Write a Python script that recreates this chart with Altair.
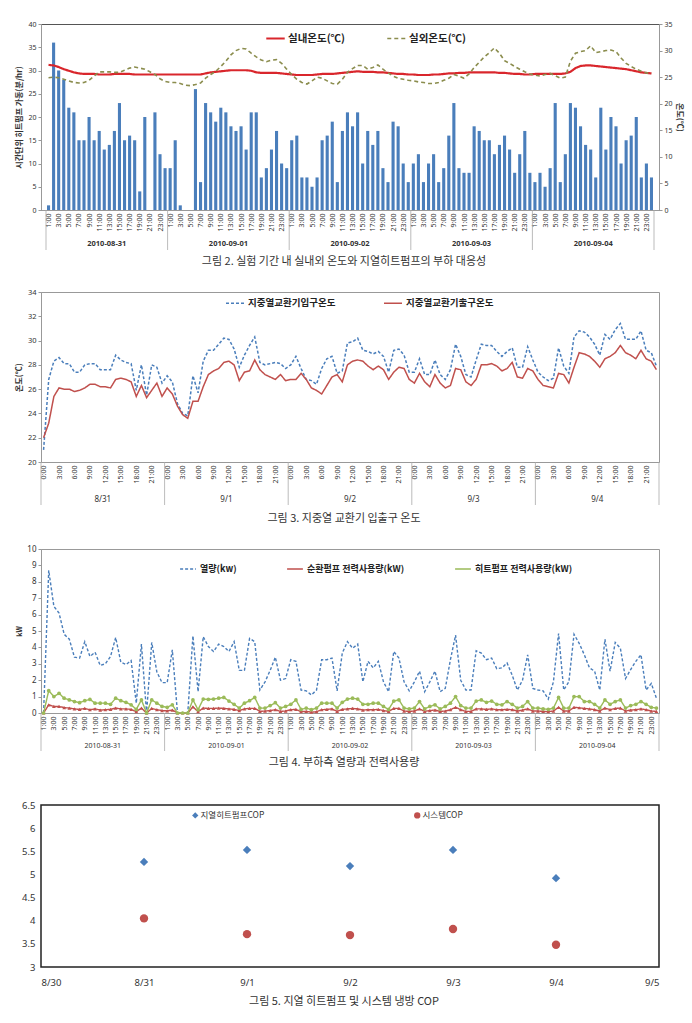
import altair as alt
import pandas as pd

FONT = "Noto Sans CJK KR"
NUM = "Noto Sans"
N = 120

# ---------------- Fig 2 data ----------------
fig2_days = ["2010-08-31", "2010-09-01", "2010-09-02", "2010-09-03", "2010-09-04"]
fig2_series = ["실내온도(℃)", "실외온도(℃)"]
hp_runtime = [
    1, 36, 30, 28, 22, 21, 15, 15, 20, 15, 17, 13, 14, 17, 23, 15, 16, 15, 4, 20, 0, 21, 12, 9,
    9, 15, 1, 0, 0, 26, 6, 23, 21, 19, 22, 21, 18, 17, 18, 13, 21, 21, 7, 9, 13, 17, 10, 9,
    15, 16, 7, 7, 5, 7, 15, 16, 19, 6, 17, 21, 18, 21, 10, 17, 14, 17, 9, 6, 19, 18, 10, 6,
    10, 12, 6, 10, 12, 6, 9, 16, 23, 9, 8, 8, 18, 17, 15, 15, 12, 14, 16, 13, 8, 12, 17, 8,
    6, 8, 5, 9, 23, 6, 12, 23, 22, 18, 14, 13, 7, 22, 13, 20, 18, 10, 15, 16, 20, 7, 10, 7,
]
indoor_temp = [
    27.3, 27.2, 26.9, 26.5, 26.2, 25.9, 25.7, 25.6, 25.6, 25.6, 25.5, 25.5, 25.5, 25.6, 25.6, 25.6, 25.6, 25.5, 25.5, 25.5, 25.5, 25.5, 25.5, 25.5,
    25.5, 25.5, 25.5, 25.5, 25.5, 25.5, 25.5, 25.7, 25.9, 26.0, 26.1, 26.2, 26.3, 26.3, 26.3, 26.3, 26.2, 25.9, 25.8, 25.8, 25.8, 25.8, 25.7, 25.6,
    25.5, 25.4, 25.4, 25.4, 25.4, 25.5, 25.6, 25.6, 25.6, 25.7, 25.8, 25.9, 26.0, 26.1, 26.0, 26.0, 26.0, 25.9, 25.9, 25.8, 25.7, 25.6, 25.6, 25.5,
    25.5, 25.4, 25.4, 25.4, 25.5, 25.5, 25.6, 25.7, 25.7, 25.8, 25.8, 25.9, 25.9, 25.9, 25.9, 25.9, 25.9, 25.8, 25.8, 25.7, 25.6, 25.6, 25.5, 25.5,
    25.6, 25.6, 25.6, 25.6, 25.6, 25.6, 25.7, 26.0, 26.7, 27.1, 27.2, 27.2, 27.1, 27.0, 26.9, 26.8, 26.7, 26.6, 26.5, 26.3, 26.1, 25.9, 25.8, 25.7,
]
outdoor_temp = [
    24.9, 25.0, 24.9, 24.6, 24.3, 24.0, 23.9, 24.0, 24.4, 25.2, 26.0, 26.0, 26.0, 25.9, 25.9, 26.3, 26.7, 26.9, 26.7, 26.5, 26.0, 25.5, 24.7, 24.2,
    24.0, 24.0, 23.8, 23.5, 23.4, 23.6, 23.9, 24.8, 25.5, 26.1, 27.0, 28.0, 29.2, 30.0, 30.4, 30.3, 29.5, 28.8, 28.2, 27.9, 28.2, 28.3, 27.6, 26.5,
    25.5, 24.6, 24.0, 23.7, 24.3, 25.0, 24.8, 24.3, 23.8, 23.7, 24.6, 25.9, 26.6, 27.2, 27.2, 26.5, 26.8, 27.3, 26.5, 25.8, 25.2, 24.8, 24.6, 24.4,
    24.3, 24.1, 24.0, 23.8, 23.8, 24.0, 24.4, 24.8, 25.5, 25.2, 24.8, 25.6, 26.8, 27.8, 28.8, 29.6, 30.5, 29.5, 28.1, 27.6, 27.0, 26.5, 26.0, 25.6,
    25.4, 25.2, 25.5, 25.7, 25.3, 24.8, 25.0, 28.0, 29.5, 29.8, 30.0, 30.9, 29.6, 29.8, 30.0, 30.1, 29.8, 28.6, 27.6, 27.0, 26.5, 26.1, 25.8, 25.7,
]

# ---------------- Fig 3 data ----------------
fig3_days = ["8/31", "9/1", "9/2", "9/3", "9/4"]
fig3_series = ["지중열교환기입구온도", "지중열교환기출구온도"]
inlet_temp = [
    21.0, 26.8, 28.3, 28.6, 28.1, 28.1, 27.4, 27.4, 28.0, 28.1, 28.1, 27.6, 27.6, 27.6, 28.8, 28.4, 28.2, 28.1, 25.9, 28.0, 25.5, 28.0, 27.8, 26.5,
    27.1, 26.6, 24.8, 24.0, 23.8, 27.1, 25.7, 28.3, 29.2, 29.2, 29.7, 30.2, 30.1, 29.3, 27.8, 28.8, 29.6, 30.3, 28.2, 28.0, 28.1, 28.2, 28.1, 27.7,
    28.0, 28.7, 27.7, 26.8, 26.7, 26.4, 27.7, 28.5, 28.7, 27.3, 27.5, 29.8, 29.9, 30.2, 29.2, 29.1, 28.9, 29.1, 28.7, 27.4, 29.2, 29.3, 28.8, 27.4,
    27.4, 28.5, 27.2, 27.2, 28.4, 27.2, 26.8, 27.6, 29.7, 28.7, 27.2, 27.0, 28.4, 29.7, 29.6, 29.6, 29.1, 28.7, 29.1, 29.4, 27.8, 27.8, 29.5, 28.4,
    27.4, 27.0, 26.7, 26.9, 29.4, 27.9, 27.3, 30.3, 30.8, 30.7, 30.3, 29.7, 28.8, 30.5, 30.1, 30.9, 31.4, 30.1, 30.1, 30.1, 30.8, 29.2, 29.0, 27.9,
]
outlet_temp = [
    22.0, 23.2, 25.4, 26.1, 26.0, 26.0, 25.8, 25.9, 26.1, 26.4, 26.4, 26.2, 26.2, 26.1, 26.8, 26.9, 26.8, 26.6, 25.4, 26.3, 25.3, 25.9, 26.5, 25.4,
    26.1, 25.6, 24.6, 23.9, 23.6, 25.0, 25.0, 26.2, 27.2, 27.5, 27.7, 28.2, 28.3, 28.0, 26.7, 27.4, 27.5, 28.4, 27.6, 27.2, 27.0, 26.8, 27.2, 26.7,
    26.8, 26.8, 27.3, 26.8, 26.1, 25.9, 25.6, 26.3, 27.0, 27.2, 26.6, 28.0, 28.3, 28.4, 28.3, 27.9, 27.6, 27.9, 27.6, 26.8, 27.4, 27.8, 27.7, 26.8,
    26.5, 27.3, 26.6, 26.2, 27.2, 26.5, 26.1, 26.3, 27.7, 27.6, 26.6, 26.3, 26.8, 28.0, 28.0, 28.1, 27.9, 27.5, 27.7, 28.2, 27.0, 26.9, 27.7, 27.5,
    26.8, 26.3, 26.2, 26.1, 27.3, 27.2, 26.5, 27.8, 29.0, 28.9, 28.7, 28.3, 27.8, 28.5, 28.7, 29.0, 29.6, 29.0, 28.8, 28.5, 29.2, 28.5, 28.3, 27.6,
]

# ---------------- Fig 4 data ----------------
fig4_days = fig2_days
fig4_series = ["열량(kw)", "순환펌프 전력사용량(kW)", "히트펌프 전력사용량(kW)"]
heat_kw = [
    0, 8.7, 6.5, 6.1, 4.8, 4.5, 3.4, 3.35, 4.35, 3.45, 3.7, 2.9, 3.0, 3.45, 4.6, 3.1, 2.95, 3.2, 0.6, 4.2, 0, 4.3, 2.5, 1.85,
    1.85, 3.85, 0, 0, 0, 4.7, 1.3, 4.65, 4.05, 3.75, 4.2, 4.05, 3.75, 4.35, 2.6, 2.6, 4.55, 4.35, 1.4, 1.9, 2.6, 3.4, 2.0, 2.1,
    3.25, 3.15, 1.4, 1.35, 1.1, 1.4, 3.25, 3.25, 3.35, 1.35, 3.65, 4.35, 3.95, 4.2, 1.9, 3.15, 2.75, 3.15, 1.9, 1.3, 3.75, 3.35, 1.9, 1.35,
    1.9, 2.55, 1.3, 1.9, 2.55, 1.3, 1.5, 3.25, 4.75, 2.0, 1.4, 1.4, 3.8, 3.65, 3.25, 3.35, 2.7, 2.75, 3.05, 2.3, 1.4, 2.0, 3.55, 1.5,
    1.4, 1.35, 0.85, 1.9, 4.85, 1.4, 1.9, 4.8, 4.25, 3.55, 2.75, 2.55, 1.4, 4.5, 2.55, 4.3, 3.95, 2.1, 2.65, 3.15, 3.55, 1.4, 1.8, 0.9,
]
pump_kw = [
    0, 0.5, 0.4, 0.4, 0.33, 0.3, 0.25, 0.22, 0.28, 0.2, 0.25, 0.18, 0.2, 0.22, 0.3, 0.25, 0.25, 0.22, 0.08, 0.3, 0, 0.28, 0.2, 0.15,
    0.13, 0.18, 0, 0, 0, 0.38, 0.08, 0.3, 0.28, 0.28, 0.3, 0.28, 0.25, 0.22, 0.15, 0.25, 0.28, 0.28, 0.1, 0.12, 0.15, 0.2, 0.1, 0.12,
    0.2, 0.22, 0.08, 0.1, 0.05, 0.08, 0.2, 0.22, 0.25, 0.1, 0.22, 0.25, 0.28, 0.25, 0.18, 0.2, 0.2, 0.22, 0.15, 0.1, 0.28, 0.28, 0.12, 0.1,
    0.12, 0.25, 0.1, 0.15, 0.18, 0.1, 0.12, 0.2, 0.35, 0.2, 0.1, 0.1, 0.25, 0.25, 0.22, 0.25, 0.2, 0.2, 0.22, 0.2, 0.12, 0.18, 0.25, 0.12,
    0.12, 0.1, 0.08, 0.12, 0.35, 0.12, 0.12, 0.35, 0.32, 0.28, 0.25, 0.2, 0.12, 0.3, 0.2, 0.28, 0.3, 0.12, 0.18, 0.2, 0.25, 0.2, 0.12, 0.1,
]
heatpump_kw = [
    0, 1.36, 1.0, 1.2, 0.9, 0.8, 0.7, 0.63, 0.75, 0.83, 0.6, 0.6, 0.6, 0.53, 0.9, 0.75, 0.65, 0.5, 0.22, 0.8, 0, 0.8, 0.6, 0.4,
    0.35, 0.5, 0, 0, 0, 0.8, 0.2, 0.85, 0.83, 0.85, 0.9, 0.95, 0.73, 0.53, 0.3, 0.6, 0.75, 0.95, 0.3, 0.3, 0.45, 0.63, 0.3, 0.4,
    0.53, 0.8, 0.22, 0.3, 0.2, 0.3, 0.6, 0.6, 0.6, 0.3, 0.65, 0.85, 0.9, 0.85, 0.53, 0.53, 0.6, 0.6, 0.4, 0.22, 0.73, 0.8, 0.3, 0.25,
    0.3, 0.7, 0.25, 0.4, 0.5, 0.25, 0.4, 0.6, 1.0, 0.45, 0.3, 0.3, 0.73, 0.8, 0.65, 0.73, 0.53, 0.5, 0.7, 0.53, 0.3, 0.4, 0.7, 0.3,
    0.3, 0.25, 0.22, 0.3, 0.95, 0.3, 0.3, 1.0, 1.0, 0.7, 0.7, 0.53, 0.3, 0.8, 0.53, 0.7, 0.8, 0.3, 0.45, 0.53, 0.7, 0.53, 0.35, 0.3,
]

# ---------------- Fig 5 data ----------------
fig5_dates = ["2010-08-31T00:00:00", "2010-09-01T00:00:00", "2010-09-02T00:00:00",
              "2010-09-03T00:00:00", "2010-09-04T00:00:00"]
fig5_series = ["지열히트펌프COP", "시스템COP"]
gshp_cop = [5.27, 5.53, 5.18, 5.53, 4.92]
system_cop = [4.05, 3.71, 3.69, 3.82, 3.48]

# ---------------- styling ----------------
W = 618
BLUE = "#4a7ebb"
RED = "#c0504d"
GREEN = "#9bbb59"
xc = [i + 0.5 for i in range(N)]
XSCALE = alt.Scale(domain=[0, N], nice=False, zero=False)


def hour_axis(step, offset):
    return alt.Axis(values=[i + 0.5 for i in range(0, N, step)],
                    labelExpr=f"(floor(datum.value) % 24 + {offset}) + ':00'",
                    labelAngle=-90, labelFontSize=7, labelFont=NUM, labelColor="#333",
                    ticks=False, domainColor="#999", title=None, labelPadding=3,
                    labelOverlap=False, grid=False)


def day_layers(labels, h, text_dy, rule_len, size, weight, axis):
    ddf = pd.DataFrame({"x": [24 * d + 12 for d in range(len(labels))], "label": labels})
    bdf = pd.DataFrame({"x": [24 * d for d in range(len(labels) + 1)]})
    rules = alt.Chart(bdf).mark_rule(color="#aaa", strokeWidth=0.8).encode(
        x=alt.X("x:Q", scale=XSCALE, axis=axis),
        y=alt.value(h), y2=alt.value(h + rule_len))
    texts = alt.Chart(ddf).mark_text(fontSize=size, font=NUM, fontWeight=weight, color="#333").encode(
        x=alt.X("x:Q", scale=XSCALE, axis=axis),
        y=alt.value(h + text_dy), text="label:N")
    return rules, texts


def caption(text, offset):
    return alt.TitleParams(text=text, orient="bottom", anchor="middle", offset=offset,
                           fontSize=11, font=FONT, fontWeight="normal", color="#333", dx=-6)


def yaxis(values, title, orient="left", lsize=7, tsize=8, tpad=4):
    return alt.Axis(values=values, title=title, orient=orient, labelFontSize=lsize, labelFont=NUM,
                    labelColor="#333", titleFont=FONT, titleFontSize=tsize, titleFontWeight="bold",
                    titleColor="#333", domainColor="#999", tickColor="#999", tickSize=3,
                    grid=False, titlePadding=tpad, labelOverlap=False)


RES = dict(x="independent", y="independent", color="independent", strokeDash="independent",
           shape="independent", strokeWidth="independent")
LRES = dict(color="independent", strokeDash="independent", shape="independent")

# ---------------- Fig 2 ----------------
H2 = 186
ax2 = hour_axis(2, 1)
df2 = pd.DataFrame({"x": xc, "runtime": hp_runtime})
df2l = pd.DataFrame({
    "x": xc + xc,
    "temp": indoor_temp + outdoor_temp,
    "series": [fig2_series[0]] * N + [fig2_series[1]] * N,
})
leg2 = alt.Legend(orient="none", legendX=224, legendY=4, direction="horizontal", title=None,
                  symbolType="stroke", symbolSize=340, symbolStrokeWidth=2.2,
                  labelFont=FONT, labelFontSize=10.5, labelFontWeight="bold", labelColor="#222",
                  columnPadding=38, labelOffset=2)
bars2 = alt.Chart(df2).mark_bar(size=3.1, color=BLUE).encode(
    x=alt.X("x:Q", scale=XSCALE, axis=ax2),
    y=alt.Y("runtime:Q", scale=alt.Scale(domain=[0, 40], nice=False),
            axis=yaxis(list(range(0, 41, 5)), "시간단위 히트펌프 가동(분/hr)")),
)
lines2 = alt.Chart(df2l).mark_line().encode(
    x=alt.X("x:Q", scale=XSCALE, axis=ax2),
    y=alt.Y("temp:Q", scale=alt.Scale(domain=[0, 35], nice=False),
            axis=yaxis(list(range(0, 36, 5)), "온도(℃)", orient="right", tpad=2)),
    color=alt.Color("series:N", scale=alt.Scale(domain=fig2_series, range=["#d9262c", "#8b8d4e"]), legend=leg2),
    strokeDash=alt.StrokeDash("series:N", scale=alt.Scale(domain=fig2_series, range=[[1, 0], [4, 3]]), legend=leg2),
    strokeWidth=alt.StrokeWidth("series:N", scale=alt.Scale(domain=fig2_series, range=[2.2, 1.6]), legend=None),
)
r2, t2 = day_layers(fig2_days, H2, 34, 40, 7.5, "bold", ax2)
c2 = alt.layer(bars2, lines2, r2, t2).resolve_scale(y="independent").properties(
    width=W, height=H2, view=alt.ViewBackground(stroke="#555"),
    title=caption("그림 2. 실험 기간 내 실내외 온도와 지열히트펌프의 부하 대응성", 6))

# ---------------- Fig 3 ----------------
H3 = 170
ax3 = hour_axis(3, 0)
df3 = pd.DataFrame({
    "x": xc + xc,
    "temp": inlet_temp + outlet_temp,
    "series": [fig3_series[0]] * N + [fig3_series[1]] * N,
})
leg3 = alt.Legend(orient="none", legendX=184, legendY=1, direction="horizontal", title=None,
                  symbolType="stroke", symbolSize=324, symbolStrokeWidth=1.6,
                  labelFont=FONT, labelFontSize=9.5, labelFontWeight="bold", labelColor="#222",
                  columnPadding=44, labelOffset=3)
lines3 = alt.Chart(df3).mark_line(strokeWidth=1.5).encode(
    x=alt.X("x:Q", scale=XSCALE, axis=ax3),
    y=alt.Y("temp:Q", scale=alt.Scale(domain=[20, 34], nice=False),
            axis=yaxis(list(range(20, 35, 2)), "온도(℃)", lsize=7.5, tsize=8)),
    color=alt.Color("series:N", scale=alt.Scale(domain=fig3_series, range=[BLUE, RED]), legend=leg3),
    strokeDash=alt.StrokeDash("series:N", scale=alt.Scale(domain=fig3_series, range=[[3, 2], [1, 0]]), legend=leg3),
)
r3, t3 = day_layers(fig3_days, H3, 38, 43, 8, "normal", ax3)
c3 = alt.layer(lines3, r3, t3).properties(
    width=W, height=H3, view=alt.ViewBackground(stroke="#999"),
    title=caption("그림 3. 지중열 교환기 입출구 온도", 8))

# ---------------- Fig 4 ----------------
H4 = 164
ax4 = hour_axis(2, 1)
y4 = yaxis(list(range(0, 11)), "kW", lsize=8, tsize=7)
df4 = pd.DataFrame({
    "x": xc * 3,
    "kw": heat_kw + pump_kw + heatpump_kw,
    "series": [fig4_series[0]] * N + [fig4_series[1]] * N + [fig4_series[2]] * N,
})
leg4 = alt.Legend(orient="none", legendX=138, legendY=11, direction="horizontal", title=None,
                  symbolType="stroke", symbolSize=250, symbolStrokeWidth=1.6,
                  labelFont=FONT, labelFontSize=9, labelFontWeight="bold", labelColor="#222",
                  columnPadding=46, labelOffset=3)
lines4 = alt.Chart(df4).mark_line(strokeWidth=1.4).encode(
    x=alt.X("x:Q", scale=XSCALE, axis=ax4),
    y=alt.Y("kw:Q", scale=alt.Scale(domain=[0, 10], nice=False), axis=y4),
    color=alt.Color("series:N", scale=alt.Scale(domain=fig4_series, range=[BLUE, RED, GREEN]), legend=leg4),
    strokeDash=alt.StrokeDash("series:N", scale=alt.Scale(domain=fig4_series, range=[[3, 2], [1, 0], [1, 0]]), legend=leg4),
)
pts4 = alt.Chart(df4).transform_filter(
    alt.FieldOneOfPredicate(field="series", oneOf=fig4_series[1:])
).mark_point(filled=True, size=14, opacity=1).encode(
    x=alt.X("x:Q", scale=XSCALE, axis=ax4),
    y=alt.Y("kw:Q", scale=alt.Scale(domain=[0, 10], nice=False), axis=y4),
    color=alt.Color("series:N", legend=None),
    shape=alt.Shape("series:N", scale=alt.Scale(domain=fig4_series[1:], range=["triangle-up", "circle"]), legend=None),
)
r4, t4 = day_layers(fig4_days, H4, 33, 38, 7, "normal", ax4)
c4 = alt.layer(lines4, pts4, r4, t4).properties(
    width=W, height=H4, view=alt.ViewBackground(stroke="#999"),
    title=caption("그림 4. 부하측 열량과 전력사용량", 6))

# ---------------- Fig 5 ----------------
H5 = 162
df5 = pd.DataFrame({
    "date": fig5_dates + fig5_dates,
    "cop": gshp_cop + system_cop,
    "series": [fig5_series[0]] * 5 + [fig5_series[1]] * 5,
})
leg5 = alt.Legend(orient="none", legendX=150, legendY=6, direction="horizontal", title=None,
                  symbolSize=40, labelFont=FONT, labelFontSize=8.5, labelColor="#333",
                  columnPadding=148, labelOffset=1, symbolStrokeWidth=0)
tick_days = [alt.DateTime(year=2010, month=m, date=d) for m, d in [(8, 30), (8, 31), (9, 1), (9, 2), (9, 3), (9, 4), (9, 5)]]
pts5 = alt.Chart(df5).mark_point(filled=True, size=70, opacity=1).encode(
    x=alt.X("date:T", scale=alt.Scale(domain=[tick_days[0], tick_days[-1]]),
            axis=alt.Axis(values=tick_days, format="%-m/%-d", title=None, labelFontSize=9.5,
                          labelFont=NUM, labelColor="#333", ticks=False, domain=False,
                          grid=False, labelPadding=10)),
    y=alt.Y("cop:Q", scale=alt.Scale(domain=[3, 6.5], nice=False),
            axis=alt.Axis(values=[3, 3.5, 4, 4.5, 5, 5.5, 6, 6.5], format="~g", title=None,
                          labelFontSize=9.5, labelFont=NUM, labelColor="#333", ticks=False,
                          domain=False, grid=False, labelPadding=6)),
    color=alt.Color("series:N", scale=alt.Scale(domain=fig5_series, range=[BLUE, RED]), legend=leg5),
    shape=alt.Shape("series:N", scale=alt.Scale(domain=fig5_series, range=["diamond", "circle"]), legend=leg5),
)
c5 = pts5.properties(
    width=W, height=H5, view=alt.ViewBackground(stroke="#222", strokeWidth=1.5),
    title=caption("그림 5. 지열 히트펌프 및 시스템 냉방 COP", 9))

inner = alt.vconcat(c2, c3, c4, spacing=19).resolve_scale(**RES).resolve_legend(**LRES)
chart = alt.vconcat(inner, c5, spacing=30).resolve_scale(**RES).resolve_legend(**LRES).properties(
    padding={"left": 14, "top": 19, "right": 6, "bottom": 0},
    background="white",
).configure_axis(grid=False)

chart.save("out.html", embed_options={"renderer": "svg", "actions": False})
